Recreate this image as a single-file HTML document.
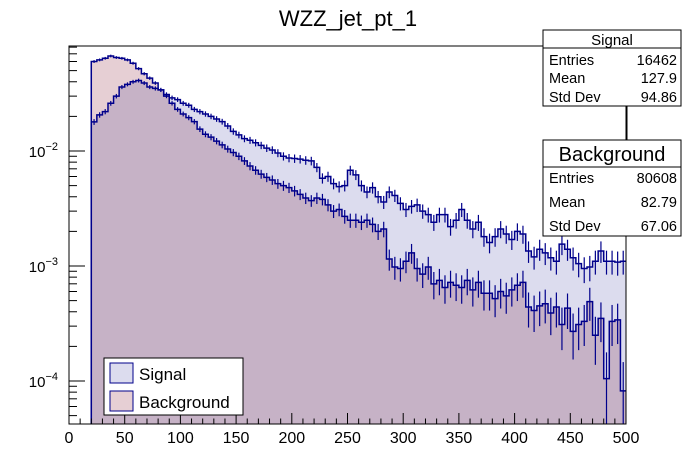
<!DOCTYPE html>
<html><head><meta charset="utf-8"><style>
body{margin:0;background:#fff}
svg{display:block;font-family:"Liberation Sans",Arial,sans-serif}
</style></head><body>
<svg id="c" width="696" height="472" viewBox="0 0 696 472">
<rect width="696" height="472" fill="#fff"/>
<text x="348" y="26" text-anchor="middle" font-size="22">WZZ_jet_pt_1</text>
<g id="plot"></g>
<rect x="69" y="46" width="557" height="378" fill="none" stroke="#000" stroke-width="1"/>
<g id="axes"></g>
<line x1="627" y1="106" x2="627" y2="140" stroke="#000"/>
<g>
<rect x="543" y="30" width="138" height="76" fill="#fff" stroke="#000"/>
<line x1="543" y1="48" x2="681" y2="48" stroke="#000"/>
<text x="612" y="45" text-anchor="middle" font-size="15">Signal</text>
<text x="549" y="65" font-size="14.5">Entries</text><text x="677" y="65" text-anchor="end" font-size="14.5">16462</text>
<text x="549" y="83" font-size="14.5">Mean</text><text x="677" y="83" text-anchor="end" font-size="14.5">127.9</text>
<text x="549" y="102" font-size="14.5">Std Dev</text><text x="677" y="102" text-anchor="end" font-size="14.5">94.86</text>
</g>
<g>
<rect x="543" y="140" width="138" height="96" fill="#fff" stroke="#000"/>
<line x1="543" y1="167" x2="681" y2="167" stroke="#000"/>
<text x="612" y="161" text-anchor="middle" font-size="20">Background</text>
<text x="549" y="183" font-size="14.5">Entries</text><text x="677" y="183" text-anchor="end" font-size="14.5">80608</text>
<text x="549" y="207" font-size="14.5">Mean</text><text x="677" y="207" text-anchor="end" font-size="14.5">82.79</text>
<text x="549" y="231" font-size="14.5">Std Dev</text><text x="677" y="231" text-anchor="end" font-size="14.5">67.06</text>
</g>
<g>
<rect x="104" y="358" width="139" height="57" fill="#fff" stroke="#000"/>
<rect x="110" y="363" width="23" height="20" fill="#dcdcee" stroke="#00008b"/>
<text x="139" y="380" font-size="17">Signal</text>
<rect x="110" y="391" width="23" height="20" fill="#e6cfd4" stroke="#00008b"/>
<text x="139" y="408" font-size="17">Background</text>
</g>
</svg>
<script>
const binStart = 20;
const binWidth = 5;
const signalValues = [0.0179,0.0206,0.022,0.026,0.030,0.036,0.038,0.040,0.041,0.039,0.036,0.035,0.034,0.031,0.029,0.028,0.026,0.025,0.023,0.022,0.021,0.020,0.019,0.018,0.0165,0.0148,0.0138,0.0128,0.0124,0.0118,0.0112,0.0106,0.0102,0.0096,0.0090,0.0087,0.0086,0.0085,0.0083,0.0082,0.0072,0.0058,0.0060,0.0052,0.0049,0.0050,0.0068,0.0062,0.0050,0.0044,0.0048,0.0040,0.0036,0.0044,0.0041,0.0035,0.0031,0.0033,0.0034,0.0030,0.0028,0.0024,0.0028,0.0028,0.0022,0.0025,0.0031,0.0025,0.0021,0.0024,0.0018,0.0016,0.0018,0.0021,0.0019,0.0017,0.0020,0.0019,0.00135,0.0012,0.0014,0.0013,0.00118,0.0011,0.00155,0.0014,0.00118,0.00105,0.00095,0.00098,0.0011,0.00135,0.0011,0.0011,0.00108,0.0011];
const backgroundValues = [0.060,0.062,0.064,0.067,0.065,0.064,0.062,0.058,0.052,0.047,0.043,0.039,0.034,0.030,0.026,0.023,0.021,0.0195,0.018,0.0155,0.014,0.0132,0.0122,0.0113,0.0104,0.0097,0.0090,0.0082,0.0074,0.0068,0.0063,0.0059,0.0056,0.0052,0.0050,0.0048,0.0045,0.0042,0.0039,0.0037,0.0039,0.0038,0.0034,0.0030,0.0031,0.0027,0.0025,0.0025,0.0024,0.0025,0.0023,0.0020,0.0021,0.00115,0.00098,0.00095,0.0011,0.0013,0.00095,0.00085,0.00098,0.0007,0.00075,0.00065,0.00072,0.00068,0.00065,0.00075,0.00062,0.00072,0.00058,0.00058,0.00052,0.0006,0.00055,0.00062,0.00068,0.00072,0.00044,0.00041,0.00045,0.00047,0.00039,0.00044,0.00031,0.00043,0.00027,0.00031,0.00033,0.00049,0.00025,0.00035,0.000105,0.00033,0.00034,0.000082];
const xTicks = [0,50,100,150,200,250,300,350,400,450,500];
const yDecades = [-4,-3,-2];
const signalN = 16462, backgroundN = 20000;

const X0=69,X1=626,Y0=424,Y1=46;
const xs = v => X0 + (v-0)/(500-0)*(X1-X0);
const ys = v => 151 - (Math.log10(v)+2)*115;
const NS='http://www.w3.org/2000/svg';
const plot=document.getElementById('plot'), axes=document.getElementById('axes');
function mk(tag,attrs,parent){const e=document.createElementNS(NS,tag);for(const k in attrs)e.setAttribute(k,attrs[k]);parent.appendChild(e);return e;}

function areaPath(vals){
  let d=`M${xs(binStart)},${Y0}`;
  vals.forEach((v,i)=>{const a=xs(binStart+i*binWidth),b=xs(binStart+(i+1)*binWidth),y=Math.min(Y0,ys(v));d+=` L${a},${y} L${b},${y}`;});
  return d+` L${xs(binStart+vals.length*binWidth)},${Y0} Z`;
}
function drawFill(vals,fill,name,blend){
  const area=mk('path',{d:areaPath(vals),fill:fill,stroke:'none'},plot);
  if(blend) area.style.mixBlendMode='multiply';
  
  
}
function drawLine(vals,N,name){
  let l='';
  vals.forEach((v,i)=>{const a=xs(binStart+i*binWidth),b=xs(binStart+(i+1)*binWidth),y=Math.min(Y0,ys(v));l+=` L${a},${y} L${b},${y}`;});
  const line=mk('path',{d:`M${xs(binStart)},${Y0}`+l,fill:'none',stroke:'#00008b','stroke-width':1.5},plot);
  
  
  const g=mk('g',{stroke:'#00008b','stroke-width':1.2},plot);
  
  
  vals.forEach((v,i)=>{const e=v/Math.sqrt(v*N);const xc=xs(binStart+(i+0.5)*binWidth);
    mk('line',{x1:xc,x2:xc,y1:Math.min(Y0,ys(v+e)),y2:Math.min(Y0,v-e>0?ys(v-e):Y0)},g);});
}
drawFill(backgroundValues,'#e6cfd4','background-histogram',false);
drawFill(signalValues,'#dcdcee','signal-histogram',true);
drawLine(backgroundValues,backgroundN,'background-histogram');
drawLine(signalValues,signalN,'signal-histogram');

// x axis
for(let v=0;v<=500;v+=10){const x=xs(v),maj=v%50===0;mk('line',{x1:x,x2:x,y1:Y0,y2:Y0-(maj?11:5.5),stroke:'#000'},axes);}
xTicks.forEach(v=>{const t=mk('text',{x:xs(v),y:443,'text-anchor':'middle','font-size':16},axes);t.textContent=v;
  
  });
// y axis
for(let d=-5;d<=-1;d++){for(let m=1;m<10;m++){const v=m*Math.pow(10,d);const y=ys(v);if(y>Y0||y<Y1)continue;
  mk('line',{x1:X0,x2:X0+(m===1?16:8),y1:y,y2:y,stroke:'#000'},axes);}}
yDecades.forEach(d=>{const t=mk('text',{x:58,y:ys(Math.pow(10,d))+6,'text-anchor':'end','font-size':15},axes);
  
  
  t.textContent='10';const s=mk('tspan',{dy:-7,'font-size':11},t);s.textContent='\u2212'+(-d);});
</script>
</body></html>
